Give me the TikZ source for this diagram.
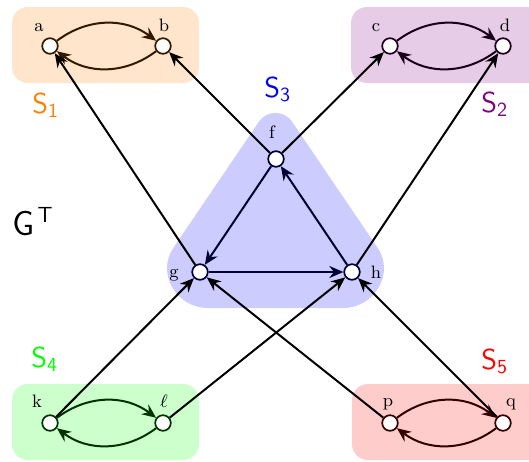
\documentclass[tikz,border=0pt]{standalone}
\usetikzlibrary{arrows.meta}
\definecolor{mypurple}{RGB}{128,0,128}
\begin{document}
\begin{tikzpicture}[x=0.5pt,y=-0.5pt,
  vtx/.style={circle, draw=#1, fill=white, line width=0.85pt, minimum size=7.8pt, inner sep=0pt},
  arr/.style={-{Stealth[length=7pt,width=6pt,inset=2.3pt]}, line width=1pt},
  loopedge/.style={arr, draw=#1, bend left=37},
  lbl/.style={inner sep=0pt, anchor=base, font=\fontsize{9}{10}\selectfont},
  slbl/.style={inner sep=0pt, anchor=base west, font=\fontsize{14}{16}\selectfont},
  boxfill/.style={fill=#1, rounded corners=8pt}
]
\useasboundingbox (0,0) rectangle (529,461);
% component backgrounds
\fill[boxfill=orange!20] (12,7) rectangle (199,83);
\fill[boxfill=mypurple!20] (351,7) rectangle (542,83);
\fill[boxfill=green!20] (12,384) rectangle (199,460);
\fill[boxfill=red!20] (352,384) rectangle (542,460);
\fill[blue!20] (208,308) -- (343,308) .. controls (375,308) and (395,273) .. (377.5,247.6)
  -- (292,121.6) .. controls (284.1,110) and (266.9,110) .. (259,121.6)
  -- (173.5,247.6) .. controls (156,273) and (176,308) .. (208,308) -- cycle;
% vertices
\node[vtx=orange!20!black] (a) at (50,46) {};
\node[vtx=orange!20!black] (b) at (163,46) {};
\node[vtx=mypurple!20!black] (c) at (390,46) {};
\node[vtx=mypurple!20!black] (d) at (503,46) {};
\node[vtx=blue!20!black] (f) at (276,159) {};
\node[vtx=blue!20!black] (g) at (200,272) {};
\node[vtx=blue!20!black] (h) at (352,272) {};
\node[vtx=green!20!black] (k) at (50,423) {};
\node[vtx=green!20!black] (l) at (163,423) {};
\node[vtx=red!20!black] (p) at (390,423) {};
\node[vtx=red!20!black] (q) at (503,423) {};
% vertex labels
\node[lbl] (la) at (39,31) {a};
\node[lbl] (lb) at (164,31) {b};
\node[lbl] (lc) at (376,31) {c};
\node[lbl] (ld) at (505,31) {d};
\node[lbl] (lf) at (272,138) {f};
\node[lbl] (lg) at (174,277) {g};
\node[lbl] (lh) at (376,278) {h};
\node[lbl] (lk) at (37,407) {k};
\node[lbl] (ll) at (164,407) {$\ell$};
\node[lbl] (lp) at (388,406) {p};
\node[lbl] (lq) at (511,406) {q};
% component labels
\node[slbl, text=orange] (s1) at (32,113) {$\mathsf{S_1}$};
\node[slbl, text=mypurple] (s2) at (481,112) {$\mathsf{S_2}$};
\node[slbl, text=blue] (s3) at (264,97) {$\mathsf{S_3}$};
\node[slbl, text=green] (s4) at (31,367) {$\mathsf{S_4}$};
\node[slbl, text=red] (s5) at (481,369) {$\mathsf{S_5}$};
\node[inner sep=0pt, anchor=base west, font=\fontsize{16}{18}\selectfont] (gt) at (12,235) {$\mathsf{G}^{\,\mathsf{T}}$};
% edges inside components
\draw[loopedge=orange!20!black] (a) to (b);
\draw[loopedge=orange!20!black] (b) to (a);
\draw[loopedge=mypurple!20!black] (c) to (d);
\draw[loopedge=mypurple!20!black] (d) to (c);
\draw[loopedge=green!20!black] (k) to (l);
\draw[loopedge=green!20!black] (l) to (k);
\draw[loopedge=red!20!black] (p) to (q);
\draw[loopedge=red!20!black] (q) to (p);
\draw[arr, draw=blue!20!black] (f) -- (g);
\draw[arr, draw=blue!20!black] (g) -- (h);
\draw[arr, draw=blue!20!black] (h) -- (f);
% edges between components
\draw[arr] (g) -- (a);
\draw[arr] (f) -- (b);
\draw[arr] (f) -- (c);
\draw[arr] (h) -- (d);
\draw[arr] (k) -- (g);
\draw[arr] (l) -- (h);
\draw[arr] (p) -- (g);
\draw[arr] (q) -- (h);
\end{tikzpicture}
\end{document}
